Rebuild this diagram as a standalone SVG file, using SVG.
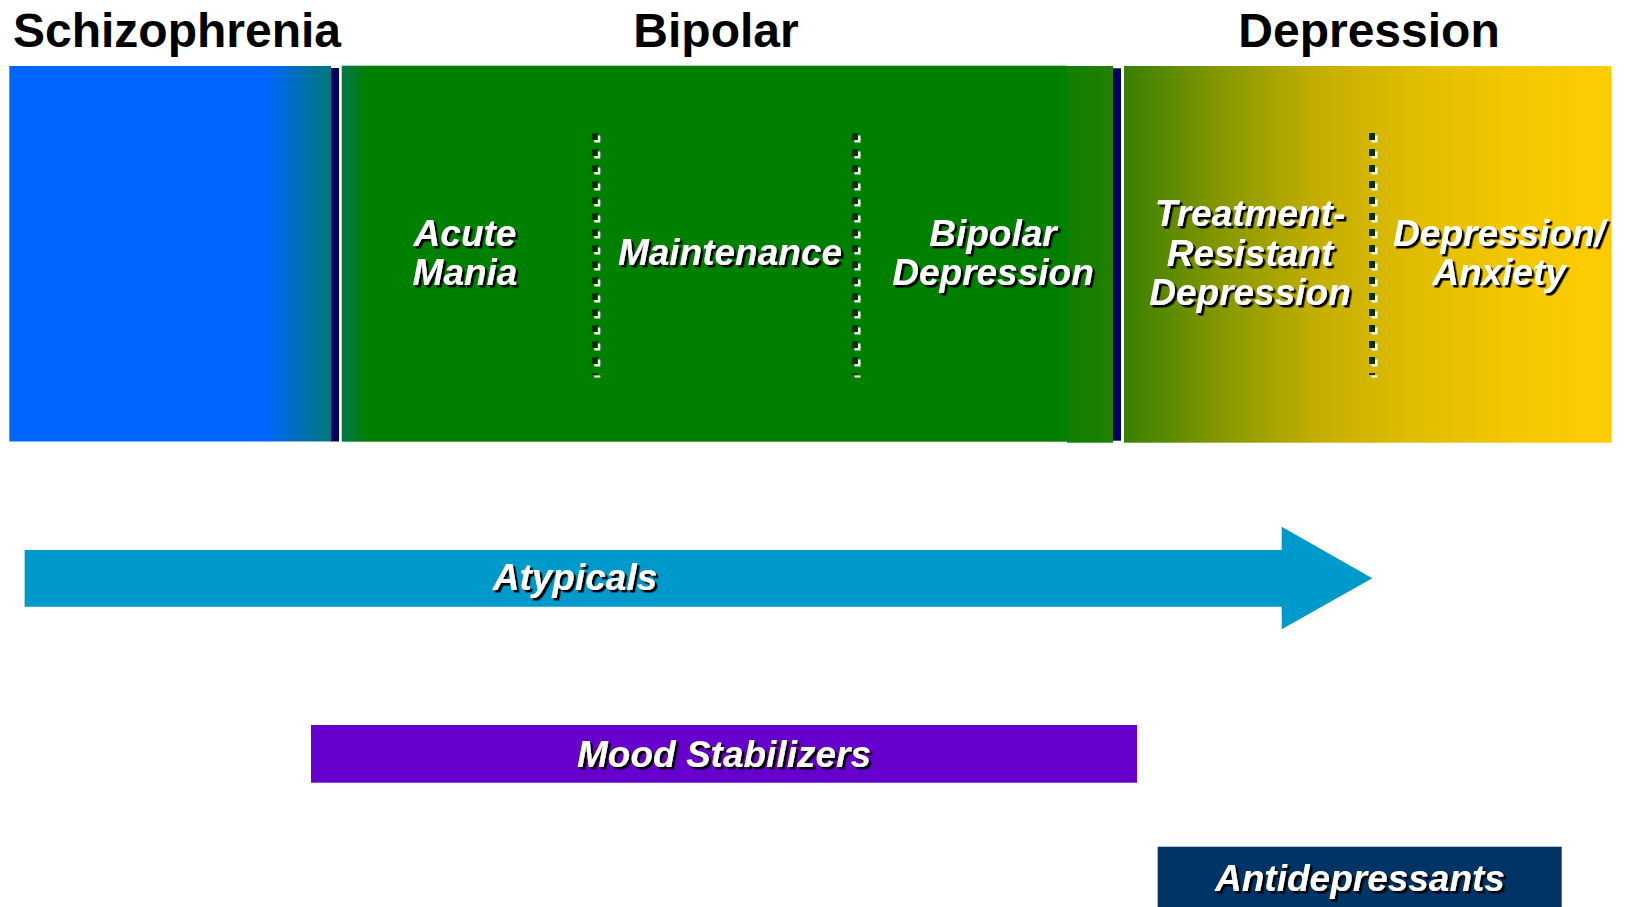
<svg xmlns="http://www.w3.org/2000/svg" width="1625" height="907" viewBox="0 0 1625 907">
  <style>
    .title { font-family: "Liberation Sans", Arial, sans-serif; font-weight: bold; font-size: 48px; fill: #000000; }
    .lbl { font-family: "Liberation Sans", Arial, sans-serif; font-weight: bold; font-style: italic; font-size: 37px; fill: #FFFFFF; text-anchor: middle; filter: url(#shadow); }
    .navy { fill: #000066; }
    .dots-w { stroke: #FFFFFF; stroke-width: 6; stroke-dasharray: 7 9; fill: none; }
    .dots-d { stroke: #003300; stroke-width: 6; stroke-dasharray: 7 9; fill: none; }
  </style>
  <defs>
    <filter id="shadow" x="-10%" y="-30%" width="120%" height="160%">
      <feDropShadow dx="2.5" dy="2.5" stdDeviation="0" flood-color="#000000" flood-opacity="1"/>
    </filter>
    <linearGradient id="gBlue" x1="0" y1="0" x2="1" y2="0">
      <stop offset="0" stop-color="#0066FF"/>
      <stop offset="0.79" stop-color="#0066FF"/>
      <stop offset="1" stop-color="#007878"/>
    </linearGradient>
    <linearGradient id="gGreen" x1="0" y1="0" x2="1" y2="0">
      <stop offset="0" stop-color="#007850"/>
      <stop offset="0.035" stop-color="#008000"/>
      <stop offset="1" stop-color="#008000"/>
    </linearGradient>
    <linearGradient id="gBlock" x1="0" y1="0" x2="1" y2="0">
      <stop offset="0" stop-color="#107F00"/>
      <stop offset="1" stop-color="#227F00"/>
    </linearGradient>
    <linearGradient id="gDep" x1="0" y1="0" x2="1" y2="0">
      <stop offset="0" stop-color="#388000"/>
      <stop offset="0.2" stop-color="#869800"/>
      <stop offset="0.4" stop-color="#C4AF00"/>
      <stop offset="0.6" stop-color="#E0BD00"/>
      <stop offset="0.8" stop-color="#F4C700"/>
      <stop offset="1" stop-color="#FFCC00"/>
    </linearGradient>
  </defs>

  <rect x="0" y="0" width="1625" height="907" fill="#FFFFFF"/>

  <g id="titles">
    <text class="title" x="13" y="47">Schizophrenia</text>
    <text class="title" x="716" y="47" text-anchor="middle">Bipolar</text>
    <text class="title" x="1369" y="47" text-anchor="middle">Depression</text>
  </g>

  <g id="schizophrenia-region">
    <rect x="9.3" y="66" width="321.7" height="375.5" fill="url(#gBlue)"/>
    <rect class="navy" x="331" y="68" width="8" height="373.5"/>
  </g>

  <g id="bipolar-region">
    <rect x="341.7" y="65.7" width="725.3" height="376" fill="url(#gGreen)"/>
    <rect x="1067" y="66" width="46" height="376.7" fill="url(#gBlock)"/>
    <rect class="navy" x="1113" y="68.3" width="8" height="372.4"/>
    <line class="dots-w" x1="597.3" y1="135.5" x2="597.3" y2="377.5"/>
    <line class="dots-d" x1="594.8" y1="133" x2="594.8" y2="375"/>
    <line class="dots-w" x1="857.5" y1="135.5" x2="857.5" y2="377.5"/>
    <line class="dots-d" x1="855" y1="133" x2="855" y2="375"/>
  </g>

  <g id="depression-region">
    <rect x="1124" y="66" width="487.6" height="376.7" fill="url(#gDep)"/>
    <line class="dots-w" x1="1374.5" y1="135.5" x2="1374.5" y2="377.5"/>
    <line class="dots-d" x1="1372" y1="133" x2="1372" y2="375"/>
  </g>

  <g id="acute-mania">
    <text class="lbl" x="465" y="246">Acute</text>
    <text class="lbl" x="465" y="285">Mania</text>
  </g>
  <g id="maintenance">
    <text class="lbl" x="730" y="265">Maintenance</text>
  </g>
  <g id="bipolar-depression">
    <text class="lbl" x="993" y="246">Bipolar</text>
    <text class="lbl" x="993" y="285">Depression</text>
  </g>
  <g id="treatment-resistant-depression">
    <text class="lbl" x="1250" y="226">Treatment-</text>
    <text class="lbl" x="1250" y="266">Resistant</text>
    <text class="lbl" x="1250" y="305">Depression</text>
  </g>
  <g id="depression-anxiety">
    <text class="lbl" x="1499" y="246">Depression/</text>
    <text class="lbl" x="1499" y="285">Anxiety</text>
  </g>

  <g id="atypicals">
    <polygon points="24.6,550 1281.7,550 1281.7,526.7 1372.3,578.3 1281.7,629.3 1281.7,606.7 24.6,606.7" fill="#0099CC"/>
    <text class="lbl" x="575" y="590">Atypicals</text>
  </g>

  <g id="mood-stabilizers">
    <rect x="311" y="725" width="826" height="57.7" fill="#6600CC"/>
    <text class="lbl" x="724" y="767">Mood Stabilizers</text>
  </g>

  <g id="antidepressants">
    <rect x="1157.7" y="846.7" width="404" height="60.3" fill="#003366"/>
    <text class="lbl" x="1360" y="891">Antidepressants</text>
  </g>

  <g id="connectors"/>
</svg>
